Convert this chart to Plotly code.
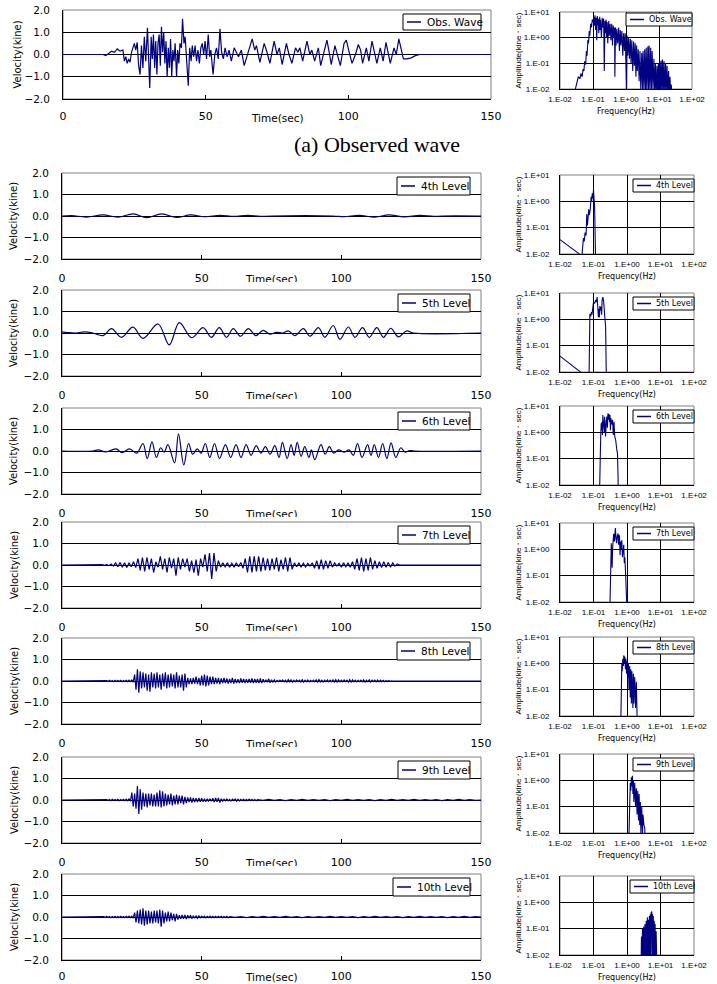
import numpy as np
import plotly.graph_objects as go

W, H = 717, 984
NAVY = "#000080"
FONT = "DejaVu Sans"
FONT2 = "Liberation Sans"

# ---------------- labels / ticks ----------------
series_names = ["Obs. Wave", "4th Level", "5th Level", "6th Level",
                "7th Level", "8th Level", "9th Level", "10th Level"]
time_ticks = [0, 50, 100, 150]
vel_ticks = [-2, -1, 0, 1, 2]
vel_grid = [-1, 0, 1]
freq_ticks = [0.01, 0.1, 1, 10, 100]
freq_labels = ["1.E-02", "1.E-01", "1.E+00", "1.E+01", "1.E+02"]
freq_grid = [0.1, 1, 10]
amp_ticks = [0.01, 0.1, 1, 10]
amp_labels = ["1.E-02", "1.E-01", "1.E+00", "1.E+01"]
amp_grid = [0.1, 1]

# ---------------- velocity waveforms (time s, kine) ----------------
obs_pairs = [(0, 0), (3, 0), (4, 0.02), (5, 0), (14, 0), (15, -0.05), (16, 0.05), (17, 0.15), (18, 0.1),
             (19, 0.25), (20, 0.15), (21, 0.2), (21.5, -0.3), (22, -0.1), (22.5, -0.4), (23, -0.2), (23.5, -0.35),
             (24, 0.1), (24.5, 0.3), (25, 0.5), (25.5, 0.2), (26, 0.55), (26.5, -0.5), (27, -0.9), (27.5, 0.4),
             (28, -0.6), (28.5, 0.8), (29, -0.3), (29.6, 1.2), (30, -0.8), (30.4, -1.5), (30.9, 0.8), (31.3, -0.2),
             (31.7, 0.9), (32.1, -0.6), (32.5, 0.6), (32.9, -0.9), (33.3, 0.5), (33.7, 0.9), (34.1, -0.5),
             (34.5, 1.25), (34.9, 0.1), (35.3, 1.0), (35.7, -0.4), (36.1, 0.6), (36.5, -1.0), (36.9, 0.3),
             (37.3, -0.6), (37.7, 0.7), (38.1, -1.0), (38.5, 0.2), (38.9, -0.3), (39.3, 0.5), (39.8, -1.0),
             (40.2, 0.2), (40.6, -0.4), (41.0, 0.5), (41.5, 0.3), (41.9, 1.6), (42.4, 0.5), (42.8, 0.8),
             (43.3, -0.2), (43.9, -1.4), (44.4, 0.3), (44.9, -0.3), (45.3, 0.4), (45.8, -0.1), (46.3, 0.4),
             (46.8, -0.3), (47.3, 0.2), (47.8, -0.4), (48.3, 0.3), (48.8, 0.5), (49.3, 0.0), (49.8, 0.6),
             (50.3, -0.2), (50.9, 0.9), (51.4, -0.1), (51.8, 0.2), (52.6, -0.9), (53.2, 0.0), (53.8, 0.3),
             (54.4, -0.2), (55.0, 1.15), (55.6, 0.1), (56.2, -0.2), (56.8, 0.3), (57.5, -0.1), (58.2, 0.2),
             (59.0, -0.3), (60.0, 0.3), (61.5, -0.1), (62.5, 0.2), (63.5, -0.5), (65.0, 0.1), (66.3, 0.7),
             (67.2, 0.2), (67.8, 0.4), (69.0, -0.35), (70.5, 0.5), (71.5, 0.1), (72.5, -0.4), (74.0, 0.6),
             (75.0, 0.0), (75.8, 0.3), (76.8, -0.45), (78.3, 0.5), (79.2, 0.0), (80.2, -0.4), (81.5, 0.3),
             (82.3, 0.1), (83.0, 0.3), (84.0, -0.3), (85.5, 0.6), (86.5, 0.0), (87.2, 0.2), (88.2, -0.3),
             (89.5, 0.3), (90.3, -0.5), (91.5, 0.2), (92.5, 0.65), (93.3, 0.1), (94.0, -0.45), (95.3, 0.4),
             (96.3, -0.1), (97.2, -0.5), (98.5, 0.5), (99.3, 0.65), (100.3, 0.1), (101.3, -0.4), (102.5, 0.0),
             (103.5, 0.45), (104.3, 0.2), (105.0, -0.4), (106.3, 0.3), (107.2, -0.3), (108.3, 0.6), (109.2, 0.1),
             (110.0, -0.4), (111.2, 0.3), (112.2, -0.3), (113.2, 0.55), (114.0, 0.0), (114.7, -0.4), (116.0, 0.3),
             (116.8, 0.0), (117.7, 0.7), (118.5, 0.3), (119.3, -0.2), (120.5, -0.2), (122.0, -0.15),
             (123.5, -0.05), (125.0, 0), (150, 0)]
obs_t = [p[0] for p in obs_pairs]
obs_v = [p[1] for p in obs_pairs]

lvl4_pairs = [(0, 0), (3.5, 0.02), (8.7, -0.05), (14.7, 0.05), (20, -0.05), (25.5, 0.1), (30.3, -0.08),
              (35.7, 0.1), (41, -0.07), (45.9, 0.05), (51, -0.03), (56.6, 0.03), (61.5, -0.02), (66.5, 0.03),
              (71, -0.02), (75, 0), (97, 0), (101, -0.03), (106.5, 0.03), (112, -0.05), (117, 0.05),
              (122.5, -0.04), (128, 0.03), (133, -0.02), (136, 0), (150, 0)]
lvl4_t = [p[0] for p in lvl4_pairs]
lvl4_v = [p[1] for p in lvl4_pairs]

lvl5_pairs = [(0, 0.05), (2, 0.02), (5, 0.0), (8, 0.05), (11, 0.0), (14.7, -0.12), (17.7, 0.2), (21.3, -0.2),
              (25.4, 0.27), (29, -0.25), (34.4, 0.42), (38.4, -0.55), (42, 0.48), (46.4, -0.22), (50.5, 0.25),
              (53.5, -0.2), (56.3, 0.25), (58.9, -0.2), (61.3, 0.2), (63.9, -0.15), (66.7, 0.2), (69.4, -0.12),
              (72, 0.12), (74.4, -0.05), (76.8, 0.03), (79, 0), (81, 0.1), (83.4, -0.12), (86.4, 0.2),
              (88.8, -0.15), (91.8, 0.25), (94.1, -0.2), (97.1, 0.35), (99.5, -0.3), (102.5, 0.28),
              (104.9, -0.2), (107.6, 0.25), (110, -0.2), (112.7, 0.25), (115.1, -0.2), (117.7, 0.22),
              (120.4, -0.18), (123.4, 0.1), (125.8, 0), (150, 0)]
lvl5_t = [p[0] for p in lvl5_pairs]
lvl5_v = [p[1] for p in lvl5_pairs]

lvl6_pairs = [(0, 0), (11, 0), (13, 0.05), (15.5, -0.04), (17.5, 0.03), (19.4, 0.1), (21.5, -0.08), (24.2, 0.1),
              (26.8, -0.1), (29, 0.35), (30.5, -0.35), (32.2, 0.42), (33.8, -0.3), (35.3, 0.15), (36.6, -0.05),
              (37.9, 0.3), (40.3, -0.55), (41.7, 0.8), (43.6, -0.65), (45.3, 0.35), (46.8, -0.15), (48.4, 0.1),
              (49.8, -0.1), (51.3, 0.35), (52.9, -0.3), (54.6, 0.35), (56.4, -0.35), (58.5, 0.3), (60.4, -0.3),
              (62.3, 0.3), (64.1, -0.3), (65.9, 0.3), (67.7, -0.2), (69.5, 0.25), (71.2, -0.1), (72.8, 0.2),
              (74.5, -0.15), (76.2, 0.25), (77.7, -0.3), (78.9, 0.4), (80.6, -0.35), (82, 0.3), (83.1, -0.2),
              (84.2, 0.4), (85.6, -0.25), (86.9, 0.2), (88.4, -0.3), (89.3, 0.05), (90.5, -0.4), (92.7, 0.3),
              (94.2, -0.15), (95.7, 0.2), (97.3, -0.1), (99, 0.05), (101, -0.05), (102.8, 0.05), (104.3, -0.2),
              (105.8, 0.35), (107.4, -0.3), (109.4, 0.3), (110.6, -0.2), (111.8, 0.3), (113.3, -0.3),
              (114.8, 0.35), (116.3, -0.35), (117.8, 0.38), (119.5, -0.3), (121.3, 0.15), (122.8, -0.05),
              (124.5, 0.02), (126, 0), (150, 0)]
lvl6_t = [p[0] for p in lvl6_pairs]
lvl6_v = [p[1] for p in lvl6_pairs]

# dense records: samples every dt seconds starting at t0
lvl7_t0, lvl7_dt = 14.4, 0.8
lvl7_v = [0.02, -0.02, 0.03, -0.03, 0.05, -0.05,
          0.1, -0.08, 0.12, -0.1, 0.1, -0.12, 0.1, -0.08, 0.15, -0.12,
          0.3, -0.25, 0.35, -0.3, 0.35, -0.2, 0.3, -0.35, 0.15,
          -0.1, 0.4, -0.2, 0.3, -0.35, 0.35, -0.15, 0.3,
          -0.5, 0.35, -0.2, 0.3, -0.1, 0.3, -0.3, 0.2, -0.35, 0.25,
          -0.5, 0.3, -0.1, 0.5, -0.3, 0.55, -0.65, 0.55, -0.3, 0.2,
          -0.1, 0.1, -0.08, 0.1, -0.1, 0.08, -0.1, 0.1, -0.08, 0.12, -0.15,
          0.3, -0.35, 0.4, -0.35, 0.4, -0.3, 0.4, -0.3, 0.35, -0.25, 0.3,
          -0.25, 0.3, -0.2, 0.35, -0.3, 0.25, -0.2, 0.35, -0.3, 0.35, -0.2,
          0.1, -0.08, 0.1, -0.1, 0.08, -0.1, 0.08, -0.05, 0.1,
          -0.15, 0.2, -0.2, 0.25, -0.2, 0.2, -0.15, 0.2,
          -0.1, 0.1, -0.05, 0.08, -0.1, 0.1, -0.08, 0.1, -0.1, 0.15,
          -0.2, 0.3, -0.25, 0.35, -0.3, 0.3, -0.25, 0.35, -0.2,
          0.2, -0.15, 0.15, -0.12, 0.15, -0.1, 0.12, -0.1, 0.1, -0.05, 0.05, 0]

lvl8_t0, lvl8_dt = 16, 0.5
lvl8_v = [0.02, -0.02, 0.03, -0.02, 0.02, -0.03, 0.03, -0.02, 0.02, -0.02, 0.03, -0.03, 0.02, -0.02, 0.03,
          -0.03, 0.04, -0.03, 0.05, -0.05,
          0.3, -0.4, 0.55, -0.55, 0.45, -0.35, 0.4, -0.3, 0.35, -0.45, 0.3, -0.5, 0.4, -0.3, 0.35, -0.35, 0.4,
          -0.3, 0.3, -0.4, 0.35, -0.25, 0.4, -0.35, 0.3, -0.3, 0.35, -0.25, 0.3, -0.35, 0.4, -0.3, 0.25, -0.3,
          0.3, -0.45, 0.35, -0.3,
          0.15, -0.15, 0.12, -0.15, 0.15, -0.12, 0.2, -0.15, 0.15, -0.2, 0.25, -0.2, 0.3, -0.25, 0.25, -0.2,
          0.2, -0.15, 0.2, -0.15, 0.15, -0.12, 0.15, -0.15, 0.12, -0.1, 0.15, -0.1, 0.12, -0.12, 0.1, -0.1,
          0.15, -0.12,
          0.1, -0.1, 0.08, -0.1, 0.12, -0.08, 0.1, -0.1, 0.08, -0.08, 0.1, -0.08, 0.12, -0.1, 0.1, -0.08, 0.1,
          -0.1, 0.12, -0.1, 0.08, -0.06, 0.06, -0.06, 0.1, -0.08, 0.06, -0.05, 0.05, -0.05,
          0.03, -0.03, 0.04, -0.03, 0.05, -0.04, 0.04, -0.05, 0.06, -0.04,
          0.05, -0.05, 0.04, -0.04, 0.05, -0.03, 0.04, -0.05, 0.06, -0.05,
          0.04, -0.04, 0.05, -0.04, 0.03, -0.03, 0.04, -0.04, 0.05, -0.05,
          0.06, -0.04, 0.04, -0.05, 0.04, -0.03, 0.05, -0.04, 0.04, -0.04,
          0.05, -0.05, 0.06, -0.05, 0.05, -0.04, 0.04, -0.04, 0.05, -0.03,
          0.04, -0.05, 0.06, -0.05, 0.05, -0.04, 0.04, -0.04, 0.03, -0.03,
          0.04, -0.04, 0.05, -0.05, 0.04, -0.04, 0.05, -0.05, 0.04, -0.03,
          0.04, -0.04, 0.05, -0.04, 0.04, -0.03, 0.03, -0.03, 0.02, -0.02,
          0.02, -0.02, 0.01, -0.01, 0.01, 0.0]

lvl9_t0, lvl9_dt = 16, 0.5
lvl9_v = [0.02, -0.02, 0.02, -0.03, 0.03, -0.02, 0.02, -0.02, 0.03, -0.03, 0.02, -0.02, 0.03, -0.03, 0.04,
          -0.04, 0.05, -0.06,
          0.35, -0.3, 0.3, -0.4, 0.65, -0.65,
          0.5, -0.45, 0.35, -0.3, 0.3, -0.35, 0.3, -0.25, 0.3, -0.3, 0.25, -0.3, 0.35, -0.3,
          0.45, -0.35, 0.4, -0.3, 0.3, -0.25,
          0.25, -0.2, 0.3, -0.25, 0.2, -0.2, 0.25, -0.2, 0.2, -0.15, 0.2, -0.2, 0.15, -0.15,
          0.12, -0.1, 0.12, -0.12, 0.1, -0.1, 0.08, -0.1, 0.1, -0.08, 0.08, -0.08, 0.06, -0.08, 0.06, -0.05,
          0.06, -0.06, 0.08, -0.1, 0.1, -0.08, 0.1, -0.12, 0.06, -0.05,
          0.04, -0.04, 0.05, -0.04, 0.03, -0.05, 0.04, -0.03, 0.05, -0.05, 0.04, -0.04, 0.03, -0.03, 0.04,
          -0.04, 0.03, -0.03, 0.04, -0.03, 0.03, -0.03, 0.02, -0.03]
lvl9_tail_t0, lvl9_tail_dt = 70, 2
lvl9_tail_v = [0.02, -0.02, 0.03, -0.02, 0.02, -0.03, 0.02, -0.02, 0.03, -0.02,
               0.02, -0.02, 0.02, -0.03, 0.02, -0.02, 0.03, -0.02, 0.02, -0.02,
               0.02, -0.03, 0.02, -0.02, 0.03, -0.02, 0.02, -0.02, 0.03, -0.02,
               0.02, -0.02, 0.02, -0.03, 0.02, -0.02, 0.03, -0.02, 0.02, -0.02]

lvl10_t0, lvl10_dt = 15, 0.5
lvl10_v = [0.02, -0.02, 0.03, -0.02, 0.02, -0.03, 0.02, -0.02, 0.03, -0.03, 0.02, -0.02, 0.03, -0.02,
           0.02, -0.03, 0.03, -0.03, 0.04, -0.03, 0.04, -0.05,
           0.2, -0.25, 0.3, -0.3, 0.35, -0.35, 0.4, -0.4, 0.3, -0.35, 0.3, -0.3, 0.25, -0.3, 0.3, -0.25,
           0.3, -0.3, 0.35, -0.45, 0.3, -0.3,
           0.2, -0.2, 0.25, -0.2, 0.2, -0.15, 0.15, -0.2, 0.15, -0.12,
           0.08, -0.08, 0.1, -0.08, 0.1, -0.1, 0.08, -0.06, 0.08, -0.08, 0.06, -0.06, 0.05, -0.06, 0.05, -0.04,
           0.04, -0.03, 0.04, -0.04, 0.03, -0.03, 0.04, -0.03, 0.03, -0.03, 0.03, -0.03, 0.03, -0.02, 0.03,
           -0.03, 0.02, -0.02, 0.03, -0.03]
lvl10_tail_t0, lvl10_tail_dt = 60, 2
lvl10_tail_v = [0.02, -0.02, 0.02, -0.03, 0.02, -0.02, 0.03, -0.02, 0.02, -0.02,
                0.03, -0.02, 0.02, -0.03, 0.02, -0.02, 0.02, -0.02, 0.03, -0.02,
                0.02, -0.02, 0.02, -0.03, 0.02, -0.02, 0.03, -0.02, 0.02, -0.02,
                0.02, -0.03, 0.02, -0.02, 0.03, -0.02, 0.02, -0.02, 0.02, -0.03,
                0.02, -0.02, 0.03, -0.02, 0.02]

# ---------------- Fourier amplitude spectra (Hz, kine*sec) ----------------
obs_spec = [(0.028, 0.008), (0.03, 0.012), (0.033, 0.02), (0.036, 0.03), (0.04, 0.025), (0.043, 0.04),
            (0.047, 0.03), (0.05, 0.06), (0.053, 0.05), (0.056, 0.12), (0.06, 0.09), (0.063, 0.3), (0.066, 0.2),
            (0.07, 0.8), (0.073, 0.6), (0.077, 1.8), (0.08, 1.2), (0.085, 3.5), (0.09, 2.5), (0.095, 5),
            (0.1, 4), (0.105, 6.5), (0.11, 3), (0.115, 7.5), (0.12, 2), (0.125, 6), (0.13, 0.8), (0.135, 7),
            (0.14, 3), (0.145, 5.5), (0.15, 1.5), (0.16, 6.5), (0.165, 2), (0.17, 5), (0.18, 1), (0.19, 6),
            (0.2, 2.5), (0.21, 5.5), (0.22, 0.05), (0.23, 4.5), (0.24, 1.5), (0.25, 5), (0.26, 1), (0.27, 4),
            (0.28, 0.6), (0.3, 4.5), (0.31, 1.2), (0.33, 3.5), (0.35, 0.8), (0.37, 3.5), (0.39, 0.5), (0.41, 3),
            (0.43, 1), (0.45, 2.5), (0.46, 0.03), (0.48, 2.5), (0.5, 0.5), (0.53, 2.2), (0.56, 0.6), (0.6, 2.5),
            (0.63, 0.3), (0.67, 2), (0.7, 0.5), (0.75, 1.8), (0.8, 0.2), (0.85, 1.5), (0.9, 0.3), (0.95, 1.5),
            (1.0, 0.01), (1.04, 0.005), (1.08, 1.2), (1.13, 0.2), (1.2, 1.0), (1.27, 0.15), (1.35, 0.9),
            (1.42, 0.1), (1.5, 0.8), (1.6, 0.05), (1.7, 0.7), (1.8, 0.08), (1.9, 0.6), (2.0, 0.03), (2.1, 0.5),
            (2.2, 0.05), (2.35, 0.35), (2.5, 0.02), (2.65, 0.3), (2.8, 0.01), (3.0, 0.25), (3.15, 0.008),
            (3.3, 0.3), (3.5, 0.01), (3.7, 0.35), (3.9, 0.008), (4.1, 0.4), (4.3, 0.01), (4.6, 0.45),
            (4.8, 0.008), (5.0, 0.5), (5.3, 0.01), (5.6, 0.4), (5.9, 0.008), (6.2, 0.3), (6.6, 0.01),
            (7.0, 0.15), (7.4, 0.008), (7.8, 0.1), (8.2, 0.005), (8.7, 0.08), (9.1, 0.008), (9.6, 0.1),
            (10, 0.005), (10.5, 0.12), (11, 0.008), (11.6, 0.13), (12.2, 0.006), (12.8, 0.14), (13.5, 0.008),
            (14.2, 0.12), (15, 0.006), (15.8, 0.1), (16.6, 0.008), (17.5, 0.08), (18.5, 0.006), (19.5, 0.05),
            (20.5, 0.008), (21.5, 0.03), (22.5, 0.008), (23.5, 0.015), (25, 0.005)]
lvl4_spec = [(0.01, 0.035), (0.038, 0.01), (0.04, 0.005), (0.045, 0.008), (0.05, 0.04), (0.053, 0.03),
             (0.056, 0.065), (0.06, 0.05), (0.063, 0.33), (0.066, 0.12), (0.069, 0.25), (0.072, 0.5),
             (0.075, 0.3), (0.08, 0.5), (0.085, 1.5), (0.088, 1.0), (0.092, 2.0), (0.095, 1.3), (0.1, 2.7),
             (0.104, 1.4), (0.108, 0.6), (0.112, 0.05), (0.118, 0.001)]
lvl5_spec = [(0.01, 0.04), (0.041, 0.01), (0.045, 0.005), (0.07, 0.003), (0.074, 0.01), (0.076, 0.5),
             (0.078, 1.6), (0.082, 1.3), (0.087, 1.9), (0.09, 1.5), (0.093, 2.9), (0.097, 3.5), (0.1, 4.5),
             (0.108, 4), (0.117, 5.5), (0.123, 4.5), (0.128, 7), (0.134, 3), (0.14, 1.2), (0.145, 2.5),
             (0.15, 1.2), (0.155, 3.2), (0.16, 2.2), (0.168, 3), (0.175, 1.5), (0.18, 5), (0.19, 7), (0.2, 5),
             (0.21, 2), (0.22, 1.5), (0.23, 0.5), (0.24, 0.01), (0.245, 0.001)]
lvl6_spec = [(0.148, 0.001), (0.15, 0.01), (0.155, 0.05), (0.16, 0.16), (0.165, 0.9), (0.17, 2.2), (0.175, 1.2),
             (0.18, 2.5), (0.185, 0.8), (0.19, 4.5), (0.195, 2), (0.2, 3.5), (0.21, 1.0), (0.215, 3.9),
             (0.22, 2.5), (0.23, 0.7), (0.24, 2.5), (0.25, 4), (0.26, 1.5), (0.27, 5.3), (0.28, 3), (0.29, 5),
             (0.3, 2.5), (0.31, 4.5), (0.32, 1.2), (0.33, 3.5), (0.35, 2), (0.37, 3), (0.39, 0.8), (0.41, 2.5),
             (0.43, 0.7), (0.46, 0.5), (0.5, 0.2), (0.52, 0.16), (0.54, 0.02), (0.56, 0.001)]
lvl7_spec = [(0.3, 0.001), (0.31, 0.01), (0.32, 0.2), (0.33, 0.7), (0.34, 1.7), (0.35, 0.5), (0.36, 0.2),
             (0.37, 1.0), (0.38, 2.6), (0.39, 1.2), (0.4, 3.9), (0.42, 2), (0.43, 4.5), (0.45, 6.4), (0.47, 2.5),
             (0.49, 1.7), (0.51, 3), (0.54, 4), (0.56, 1.5), (0.58, 3.5), (0.6, 3), (0.62, 0.6), (0.65, 2.0),
             (0.68, 1.0), (0.7, 2.2), (0.73, 0.5), (0.76, 0.8), (0.8, 1.5), (0.83, 0.3), (0.86, 0.5), (0.9, 0.16),
             (0.95, 0.06), (1.0, 0.03), (1.05, 0.001)]
lvl8_spec = [(0.64, 0.001), (0.66, 0.02), (0.68, 0.3), (0.7, 1.0), (0.72, 0.5), (0.75, 1.5), (0.78, 0.8),
             (0.8, 2.0), (0.83, 1.0), (0.86, 1.8), (0.9, 0.6), (0.93, 1.5), (0.97, 0.4), (1.0, 1.2), (1.05, 0.3),
             (1.1, 1.0), (1.15, 0.1), (1.2, 0.8), (1.25, 0.05), (1.3, 0.6), (1.35, 0.03), (1.4, 0.5),
             (1.5, 0.02), (1.55, 0.4), (1.6, 0.03), (1.7, 0.3), (1.8, 0.02), (1.9, 0.2), (2.0, 0.01),
             (2.1, 0.001)]
lvl9_spec = [(1.1, 0.001), (1.15, 0.02), (1.2, 0.3), (1.25, 0.8), (1.3, 0.4), (1.35, 1.3), (1.4, 0.6),
             (1.45, 1.5), (1.5, 0.3), (1.55, 1.0), (1.6, 0.15), (1.7, 0.8), (1.8, 0.1), (1.9, 0.5), (2.0, 0.05),
             (2.1, 0.4), (2.2, 0.03), (2.3, 0.3), (2.4, 0.02), (2.5, 0.15), (2.6, 0.01), (2.75, 0.1),
             (2.9, 0.01), (3.0, 0.05), (3.2, 0.02), (3.4, 0.015), (3.5, 0.001)]
lvl10_spec = [(2.6, 0.001), (2.7, 0.05), (2.8, 0.005), (2.9, 0.1), (3.0, 0.005), (3.15, 0.12), (3.3, 0.005),
              (3.45, 0.15), (3.6, 0.008), (3.75, 0.2), (3.9, 0.005), (4.05, 0.27), (4.2, 0.01), (4.35, 0.22),
              (4.5, 0.006), (4.65, 0.3), (4.8, 0.01), (4.95, 0.35), (5.1, 0.005), (5.25, 0.4), (5.4, 0.02),
              (5.5, 0.45), (5.65, 0.008), (5.8, 0.35), (5.95, 0.005), (6.1, 0.3), (6.3, 0.01), (6.5, 0.2),
              (6.7, 0.005), (6.9, 0.15), (7.1, 0.01), (7.4, 0.08), (7.6, 0.005), (7.8, 0.05), (8.0, 0.001)]


def sampled(t0, dt, vals):
    return list(t0 + dt * np.arange(len(vals))), list(vals)


def dense_series(t0, dt, vals, tail=None):
    t, v = sampled(t0, dt, vals)
    tt = [0.0, t0 - dt] + t
    vv = [0.0, 0.0] + v
    if tail is not None:
        t2, v2 = sampled(*tail)
        tt += t2
        vv += v2
    else:
        tt += [t[-1] + dt]
        vv += [0.0]
    tt += [150.0]
    vv += [0.0]
    return tt, vv


lvl7_t, lvl7_vv = dense_series(lvl7_t0, lvl7_dt, lvl7_v)
lvl8_t, lvl8_vv = dense_series(lvl8_t0, lvl8_dt, lvl8_v)
lvl9_t, lvl9_vv = dense_series(lvl9_t0, lvl9_dt, lvl9_v, (lvl9_tail_t0, lvl9_tail_dt, lvl9_tail_v))
lvl10_t, lvl10_vv = dense_series(lvl10_t0, lvl10_dt, lvl10_v, (lvl10_tail_t0, lvl10_tail_dt, lvl10_tail_v))

time_series = [(obs_t, obs_v, "linear"), (lvl4_t, lvl4_v, "spline"), (lvl5_t, lvl5_v, "spline"),
               (lvl6_t, lvl6_v, "spline"), (lvl7_t, lvl7_vv, "linear"), (lvl8_t, lvl8_vv, "linear"),
               (lvl9_t, lvl9_vv, "linear"), (lvl10_t, lvl10_vv, "linear")]
spectra = [obs_spec, lvl4_spec, lvl5_spec, lvl6_spec, lvl7_spec, lvl8_spec, lvl9_spec, lvl10_spec]

# ---------------- layout (pixel boxes: left, right, top, bottom) ----------------
time_boxes = [(63, 491, 10, 99)] + [(62, 481, t, t + 86) for t in (173, 290, 408, 522, 638, 757, 874)]
spec_boxes = [(560, 692, 12, 89)] + [(560, 694, t, t + 79) for t in (175, 293, 406, 523, 637, 754, 876)]
time_leg_w = [78, 73, 72, 72, 72, 73, 72, 77]
spec_leg_w = [66, 61, 61, 61, 61, 61, 61, 64]
x_label_standoff = [7, 9, 9, 9, 9, 9, 9, 6]


def fx(px):
    return px / W


def fy(px):
    return 1 - px / H


fig = go.Figure()
layout = dict(template="none", width=W, height=H, margin=dict(l=0, r=0, t=0, b=0, pad=0),
              paper_bgcolor="white", plot_bgcolor="white", showlegend=False,
              font=dict(family=FONT, color="black"))
annotations = []
shapes = []


def add_legend(name, left, right, top, h, fsize, line_len, text_gap):
    shapes.append(dict(type="rect", xref="paper", yref="paper", x0=fx(left), x1=fx(right), y0=fy(top + h),
                       y1=fy(top), fillcolor="white", line=dict(color="black", width=1), layer="above"))
    shapes.append(dict(type="line", xref="paper", yref="paper", x0=fx(left + 4), x1=fx(left + 4 + line_len),
                       y0=fy(top + h / 2), y1=fy(top + h / 2), line=dict(color=NAVY, width=1.5), layer="above"))
    annotations.append(dict(text=name, x=fx(left + 4 + line_len + text_gap), y=fy(top + h / 2), xref="paper",
                            yref="paper", showarrow=False, xanchor="left", yanchor="middle",
                            font=dict(family=FONT, size=fsize, color="black")))


for i in range(8):
    kt, ks = 2 * i + 1, 2 * i + 2
    nt = "" if kt == 1 else str(kt)
    ns = str(ks)

    # ---- time history panel ----
    l, r, t, b = time_boxes[i]
    tx, tv, shp = time_series[i]
    fig.add_trace(go.Scatter(x=tx, y=tv, mode="lines", name=series_names[i],
                             line=dict(color=NAVY, width=1.2, shape=shp),
                             xaxis="x" + nt, yaxis="y" + nt))
    layout["xaxis" + nt] = dict(domain=[fx(l), fx(r)], anchor="y" + nt, range=[0, 150], tickvals=time_ticks,
                                ticks="inside", ticklen=4, tickcolor="black", showline=True, linecolor="black",
                                linewidth=1, showgrid=False, zeroline=False, fixedrange=True, automargin=False,
                                tickfont=dict(family=FONT, size=11, color="black"),
                                ticklabelstandoff=x_label_standoff[i])
    layout["yaxis" + nt] = dict(domain=[fy(b), fy(t)], anchor="x" + nt, range=[-2, 2], tickvals=vel_ticks,
                                tickformat=".1f", showgrid=False, showline=True,
                                minor=dict(tickmode="array", tickvals=vel_grid, showgrid=True, gridcolor="black",
                                           gridwidth=1, ticks=""),
                                linecolor="black", linewidth=1, zeroline=False, ticks="", fixedrange=True,
                                automargin=False,
                                tickfont=dict(family=FONT, size=10.5, color="black"), ticklabelstandoff=10)
    shapes.append(dict(type="rect", xref="x" + nt + " domain", yref="y" + nt + " domain", x0=0, x1=1, y0=0,
                       y1=1, line=dict(color="#808080", width=1), layer="below"))
    lr = r - (10 if i == 0 else 11)
    add_legend(series_names[i], lr - time_leg_w[i], lr, t + 4, 16 if i == 0 else 18, 10.5, 14, 4)
    tsec = dict(text="Time(sec)", x=fx((l + r) / 2), xref="paper", yref="paper", showarrow=False,
                font=dict(family=FONT, size=10.5, color="black"), xanchor="center", yanchor="top")
    if i == 0:
        tsec["y"] = fy(b + 11)
    elif i == 7:
        tsec["y"] = fy(b + 9)
    else:
        tsec.update(y=fy(b + 12), height=9, valign="top")
    annotations.append(tsec)
    annotations.append(dict(text="Velocity(kine)", x=fx(17 if i == 0 else 14), y=fy((t + b) / 2),
                            xref="paper", yref="paper", showarrow=False, textangle=-90,
                            font=dict(family=FONT, size=10, color="black"), xanchor="center", yanchor="middle"))

    # ---- spectrum panel ----
    l, r, t, b = spec_boxes[i]
    sp = spectra[i]
    fig.add_trace(go.Scatter(x=[p[0] for p in sp], y=[p[1] for p in sp], mode="lines", name=series_names[i],
                             line=dict(color=NAVY, width=1.1), xaxis="x" + ns, yaxis="y" + ns))
    layout["xaxis" + ns] = dict(domain=[fx(l), fx(r)], anchor="y" + ns, type="log", range=[-2, 2],
                                tickvals=freq_ticks, ticktext=freq_labels, ticks="", showgrid=False,
                                minor=dict(tickmode="array", tickvals=freq_grid, showgrid=True, gridcolor="black",
                                           gridwidth=1, ticks=""),
                                showline=True, linecolor="black", linewidth=1, automargin=False,
                                zeroline=False, fixedrange=True, ticklabelstandoff=2,
                                tickfont=dict(family=FONT2, size=8, color="black"))
    layout["yaxis" + ns] = dict(domain=[fy(b), fy(t)], anchor="x" + ns, type="log", range=[-2, 1],
                                tickvals=amp_ticks, ticktext=amp_labels, ticks="", showgrid=False,
                                minor=dict(tickmode="array", tickvals=amp_grid, showgrid=True, gridcolor="black",
                                           gridwidth=1, ticks=""),
                                showline=True, linecolor="black", linewidth=1, automargin=False,
                                zeroline=False, fixedrange=True, ticklabelstandoff=8,
                                tickfont=dict(family=FONT2, size=8, color="black"))
    shapes.append(dict(type="rect", xref="x" + ns + " domain", yref="y" + ns + " domain", x0=0, x1=1, y0=0,
                       y1=1, line=dict(color="#808080", width=1), layer="below"))
    add_legend(series_names[i], r - spec_leg_w[i], r, t + (1 if i == 0 else 4), 13, 8, 14, 3)
    annotations.append(dict(text="Frequency(Hz)", x=fx((l + r) / 2), y=fy(b + 16), xref="paper", yref="paper",
                            showarrow=False, font=dict(family=FONT, size=8, color="black"),
                            xanchor="center", yanchor="top"))
    annotations.append(dict(text="Amplitude(kine・sec)", x=fx(518), y=fy((t + b) / 2), xref="paper",
                            yref="paper", showarrow=False, textangle=-90,
                            font=dict(family=FONT2, size=8, color="black"), xanchor="center", yanchor="middle"))

annotations.append(dict(text="(a) Observed wave", x=fx(377), y=fy(145), xref="paper", yref="paper",
                        showarrow=False, font=dict(family="Liberation Serif", size=22, color="black"),
                        xanchor="center", yanchor="middle"))

layout["annotations"] = annotations
layout["shapes"] = shapes
fig.update_layout(**layout)
fig.write_html("out.html", config={"displayModeBar": False},
               post_script="document.body.style.margin='0';document.body.style.padding='0';")
